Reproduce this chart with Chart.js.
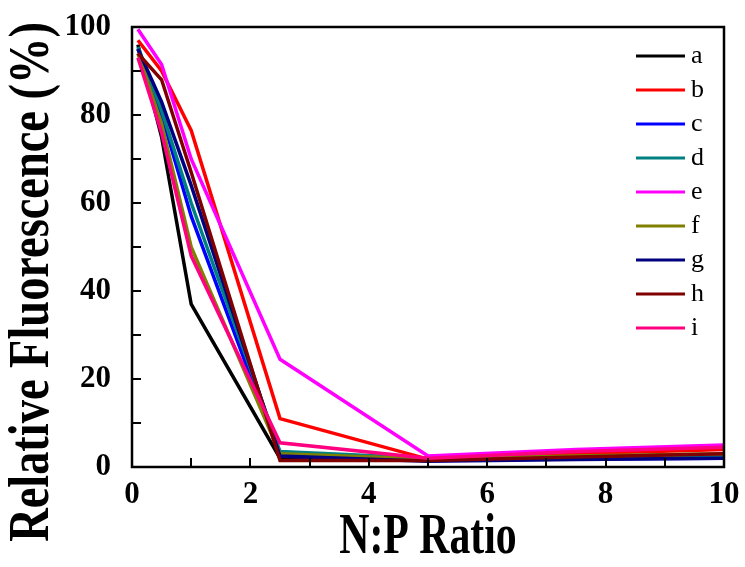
<!DOCTYPE html>
<html>
<head>
<meta charset="utf-8">
<script src="https://cdn.jsdelivr.net/npm/chart.js@4/dist/chart.umd.min.js"></script>
<style>
  html, body { margin: 0; padding: 0; background: #fff; }
  #wrap { width: 745px; height: 567px; }
</style>
</head>
<body>
<div id="wrap"><canvas id="fluo"></canvas></div>
<script>
const ratios = [0.1, 0.5, 1, 2.5, 5, 7.5, 10];
const seriesNames = ['a', 'b', 'c', 'd', 'e', 'f', 'g', 'h', 'i'];
const aVals = [96, 75, 37, 2, 1.5, 2, 2.5];
const bVals = [97, 90, 76.5, 11, 1.8, 3, 4];
const cVals = [95, 80, 57, 2.5, 1.5, 1.8, 2];
const dVals = [95.5, 81, 60, 3.5, 2, 2.3, 2.5];
const eVals = [99.5, 91.5, 70, 24.5, 2.5, 4, 5];
const fVals = [94, 78, 50, 3, 1.8, 2.5, 3];
const gVals = [95, 83, 64, 2.5, 1.3, 1.7, 2];
const hVals = [94, 88, 67, 1.5, 1.5, 2.3, 3];
const iVals = [93, 76, 48, 5.5, 2, 3.5, 4.5];
const xTicks = [0, 2, 4, 6, 8, 10];
const yTicks = [0, 20, 40, 60, 80, 100];

const allVals = [aVals, bVals, cVals, dVals, eVals, fVals, gVals, hVals, iVals];
const colors = ['#000000', '#ff0000', '#0000ff', '#008080', '#ff00ff',
                '#808000', '#000080', '#800000', '#ff0080'];

const datasets = seriesNames.map((name, k) => ({
  label: name,
  data: ratios.map((r, j) => ({ x: r, y: allVals[k][j] })),
  borderColor: colors[k],
  backgroundColor: colors[k],
  borderWidth: 3.5,
  pointRadius: 0,
  tension: 0,
  order: seriesNames.length - k
}));

// frame, inward ticks, axis titles and legend
const decor = {
  id: 'decor',
  afterDraw(chart) {
    const { ctx, chartArea: ca, scales } = chart;
    const xs = scales.x, ys = scales.y;
    ctx.save();
    ctx.strokeStyle = '#000';
    ctx.lineWidth = 2;
    for (let v = 0; v <= 10; v++) {
      const px = Math.round(xs.getPixelForValue(v));
      ctx.beginPath();
      ctx.moveTo(px, ca.bottom);
      ctx.lineTo(px, ca.bottom - 9);
      ctx.stroke();
    }
    for (let v = 0; v <= 100; v += 10) {
      const py = Math.round(ys.getPixelForValue(v));
      ctx.beginPath();
      ctx.moveTo(ca.left, py);
      ctx.lineTo(ca.left + 9, py);
      ctx.stroke();
    }
    ctx.lineWidth = 2.5;
    ctx.strokeRect(ca.left, ca.top, ca.right - ca.left, ca.bottom - ca.top);

    // axis titles (tall, narrow lettering)
    ctx.fillStyle = '#000';
    ctx.font = 'bold 58px "Liberation Serif", "Times New Roman", serif';
    ctx.textAlign = 'center';
    ctx.textBaseline = 'alphabetic';
    ctx.save();
    ctx.translate((ca.left + ca.right) / 2, 553);
    ctx.scale(0.72, 1);
    ctx.fillText('N:P Ratio', 0, 0);
    ctx.restore();

    ctx.save();
    ctx.translate(48, 282);
    ctx.rotate(-Math.PI / 2);
    ctx.scale(0.8, 1);
    ctx.fillText('Relative Fluorescence (%)', 0, 0);
    ctx.restore();

    // legend
    ctx.font = '26px "Liberation Serif", "Times New Roman", serif';
    ctx.textAlign = 'left';
    ctx.textBaseline = 'middle';
    chart.data.datasets.forEach((ds, k) => {
      const y = 56 + k * 34;
      ctx.strokeStyle = ds.borderColor;
      ctx.lineWidth = 3;
      ctx.beginPath();
      ctx.moveTo(636, y);
      ctx.lineTo(685, y);
      ctx.stroke();
      ctx.fillStyle = '#000';
      ctx.fillText(ds.label, 691, y);
    });
    ctx.restore();
  }
};

const tickFont = { family: '"Liberation Serif", "Times New Roman", serif', size: 31, weight: 'bold' };

new Chart(document.getElementById('fluo'), {
  type: 'line',
  data: { datasets },
  options: {
    responsive: true,
    maintainAspectRatio: false,
    animation: false,
    layout: { padding: { top: 27, right: 21, left: 0, bottom: 0 } },
    plugins: { legend: { display: false }, tooltip: { enabled: false } },
    scales: {
      x: {
        type: 'linear',
        min: 0,
        max: 10,
        afterFit: s => { s.height = 100; s.paddingLeft = 0; s.paddingRight = 0; },
        afterBuildTicks: s => { s.ticks = xTicks.map(v => ({ value: v })); },
        grid: { display: false, drawTicks: false },
        border: { display: false },
        ticks: { color: '#000', font: tickFont, padding: 9, maxRotation: 0 }
      },
      y: {
        min: 0,
        max: 100,
        afterFit: s => { s.width = 132; s.paddingTop = 0; s.paddingBottom = 0; },
        afterBuildTicks: s => { s.ticks = yTicks.map(v => ({ value: v })); },
        grid: { display: false, drawTicks: false },
        border: { display: false },
        ticks: { color: '#000', font: tickFont, padding: 21 }
      }
    }
  },
  plugins: [decor]
});
</script>
</body>
</html>
